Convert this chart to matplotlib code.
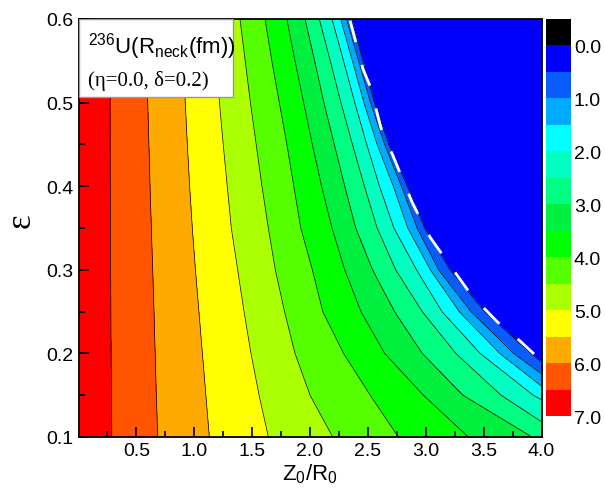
import numpy as np
import matplotlib.pyplot as plt
from matplotlib.patches import Rectangle

plt.rcParams['font.family'] = 'Liberation Sans'
plt.rcParams['mathtext.default'] = 'regular'

eps_rows = [0.1, 0.15, 0.2, 0.25, 0.3, 0.35, 0.4, 0.45, 0.5, 0.55, 0.6]

# R_neck contour levels (fm) and the Z0/R0 position of each level on every row
levels_r = [6.5, 6.0, 5.5, 5.0, 4.5, 4.0, 3.5, 3.0, 2.5, 2.0, 1.5, 1.0, 0.5]
x_cross = [
    [0.287, 0.284, 0.281, 0.279, 0.277, 0.275, 0.274, 0.273, 0.272, 0.271, 0.270],  # 6.5
    [0.684, 0.672, 0.662, 0.652, 0.641, 0.629, 0.618, 0.608, 0.598, 0.588, 0.578],  # 6.0
    [1.13, 1.10, 1.07, 1.04, 1.01, 0.983, 0.96, 0.94, 0.922, 0.905, 0.89],         # 5.5
    [1.64, 1.56, 1.49, 1.43, 1.375, 1.32, 1.285, 1.25, 1.218, 1.19, 1.16],         # 5.0
    [2.196, 2.00, 1.87, 1.78, 1.70, 1.64, 1.585, 1.535, 1.485, 1.44, 1.395],       # 4.5
    [2.763, 2.52, 2.29, 2.11, 2.02, 1.92, 1.86, 1.80, 1.735, 1.67, 1.611],         # 4.0
    [3.368, 2.98, 2.645, 2.44, 2.30, 2.19, 2.10, 2.02, 1.945, 1.87, 1.80],         # 3.5
    [3.92, 3.32, 2.97, 2.73, 2.54, 2.395, 2.30, 2.21, 2.12, 2.04, 1.957],          # 3.0
    [4.20, 3.65, 3.26, 2.97, 2.74, 2.58, 2.47, 2.367, 2.267, 2.175, 2.08],         # 2.5
    [4.60, 3.93, 3.47, 3.14, 2.92, 2.725, 2.60, 2.49, 2.387, 2.29, 2.19],          # 2.0
    [4.90, 4.10, 3.64, 3.29, 3.04, 2.845, 2.72, 2.58, 2.466, 2.366, 2.265],        # 1.5
    [5.10, 4.25, 3.76, 3.39, 3.11, 2.925, 2.79, 2.645, 2.523, 2.42, 2.315],        # 1.0
    [5.30, 4.35, 3.91, 3.51, 3.21, 2.99, 2.84, 2.68, 2.555, 2.455, 2.36],          # 0.5
]
r_at_zero = 7.0   # neck radius at Z0/R0 = 0
r_cut = 0.0       # past the scission line

# white dashed curve
dash_x = [2.346, 2.458, 2.518, 2.631, 2.709, 2.881, 2.968, 3.037, 3.149, 3.253,
          3.356, 3.469, 3.616, 3.797, 4.0]
dash_eps = [0.598, 0.540, 0.520, 0.460, 0.439, 0.381, 0.357, 0.339, 0.317, 0.297,
            0.277, 0.259, 0.238, 0.217, 0.191]

bounds = [-0.5, 0.0, 0.5, 1.0, 1.5, 2.0, 2.5, 3.0, 3.5, 4.0, 4.5, 5.0, 5.5, 6.0, 6.5, 7.0]
colors = ['#000000', '#0000ff', '#0a5cff', '#00aaff', '#00ffff', '#00ffc0',
          '#00ff80', '#00f040', '#00ff00', '#55ff00', '#aaff00', '#ffff00',
          '#ffaa00', '#ff5500', '#ff0000']

# build the field: contour positions between read rows, then value along each row
xg = np.linspace(0, 4, 401)
eg = np.linspace(0.1, 0.6, 201)
xc = np.array([np.interp(eg, eps_rows, row) for row in x_cross])
Z = []
for j in range(len(eg)):
    xs = np.concatenate([[0.0], xc[:, j], [xc[-1, j] + 0.05, 9.0]])
    vs = np.concatenate([[r_at_zero], levels_r, [0.25, r_cut]])
    Z.append(np.interp(xg, xs, vs))
Z = np.array(Z)
X, Y = np.meshgrid(xg, eg)

fig = plt.figure(figsize=(6.05, 5.02), dpi=100)
ax = fig.add_axes([0.1298, 0.1275, 0.7653, 0.8327])
cf = ax.contourf(X, Y, Z, levels=bounds, colors=colors)
ax.contour(X, Y, Z, levels=levels_r[::-1], colors='k', linewidths=0.5)
ax.plot(dash_x, dash_eps, color='white', lw=2, dashes=(8, 8.5))

ax.set_xlim(0, 4)
ax.set_ylim(0.1, 0.6)
ax.set_xticks(np.arange(0.5, 4.01, 0.5))
ax.set_xticks(np.arange(0.25, 4.0, 0.5), minor=True)
ax.set_yticks(np.arange(0.1, 0.61, 0.1))
ax.set_yticks(np.arange(0.15, 0.6, 0.1), minor=True)
ax.xaxis.set_major_formatter(plt.FormatStrFormatter('%.1f'))
ax.yaxis.set_major_formatter(plt.FormatStrFormatter('%.1f'))
ax.tick_params(which='both', direction='in', labelsize=14, width=1.2)
ax.tick_params(which='major', length=7)
ax.tick_params(which='minor', length=4)
for s in ax.spines.values():
    s.set_linewidth(1.3)
ax.set_xlabel('Z$_0$/R$_0$', fontsize=16, labelpad=2)
ax.set_ylabel('ε', fontsize=25, family='Liberation Serif', va='center')
ax.yaxis.set_label_coords(-0.125, 0.52)

ax.add_patch(Rectangle((0, 0.8134), 0.3337, 0.1866, transform=ax.transAxes,
                       facecolor='white', edgecolor='#999999', lw=1, zorder=5))
ax.text(0.021, 0.921, '$^{236}$U(R$_{neck}$(fm))', transform=ax.transAxes,
        fontsize=16, va='baseline', zorder=6)
ax.text(0.021, 0.854, '(η=0.0, δ=0.2)', transform=ax.transAxes,
        fontsize=15, family='Liberation Serif', va='center', zorder=6)

cax = fig.add_axes([0.9025, 0.1693, 0.0413, 0.7908])
cb = fig.colorbar(cf, cax=cax, ticks=np.arange(0, 8, 1))
cb.ax.invert_yaxis()
cb.outline.set_visible(False)
cb.ax.set_yticklabels(['%.1f' % t for t in range(8)])
cb.ax.tick_params(length=0, labelsize=14, pad=2)

fig.savefig('out.png', dpi=100)
